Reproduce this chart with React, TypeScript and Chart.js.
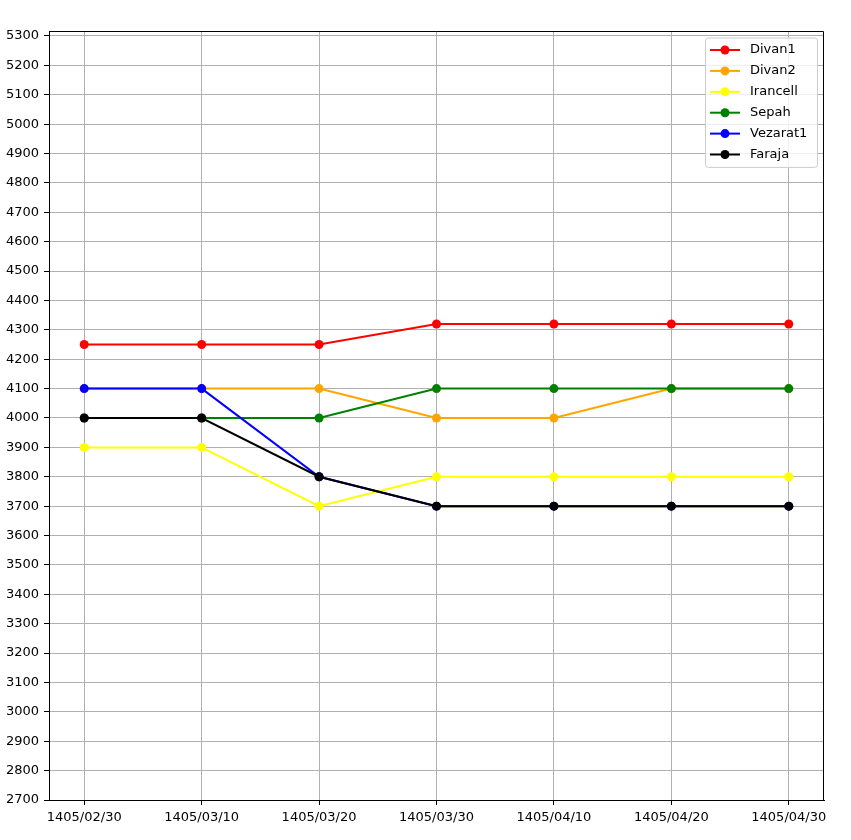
import React, { useEffect, useRef } from "react";
import { Chart, registerables } from "chart.js";

Chart.register(...registerables);

const categories = ["1405/02/30", "1405/03/10", "1405/03/20", "1405/03/30", "1405/04/10", "1405/04/20", "1405/04/30"];
const seriesNames = ["Divan1", "Divan2", "Irancell", "Sepah", "Vezarat1", "Faraja"];
const seriesColors = ["#ff0000", "#ffa500", "#ffff00", "#008000", "#0000ff", "#000000"];
const divan1 = [4250, 4250, 4250, 4320, 4320, 4320, 4320];
const divan2 = [4100, 4100, 4100, 4000, 4000, 4100, 4100];
const irancell = [3900, 3900, 3700, 3800, 3800, 3800, 3800];
const sepah = [4000, 4000, 4000, 4100, 4100, 4100, 4100];
const vezarat1 = [4100, 4100, 3800, 3700, 3700, 3700, 3700];
const faraja = [4000, 4000, 3800, 3700, 3700, 3700, 3700];
const seriesValues = [divan1, divan2, irancell, sepah, vezarat1, faraja];
const yTicks = [2700, 2800, 2900, 3000, 3100, 3200, 3300, 3400, 3500, 3600, 3700, 3800, 3900, 4000, 4100, 4200, 4300, 4400, 4500, 4600, 4700, 4800, 4900, 5000, 5100, 5200, 5300];

const FONT = "DejaVu Sans";

const framePlugin = {
  id: "frame",
  afterDatasetsDraw(chart: any) {
    const { ctx, chartArea } = chart;
    ctx.save();
    ctx.strokeStyle = "#000";
    ctx.lineWidth = 1;
    ctx.beginPath();
    ctx.moveTo(chartArea.left, chartArea.top + 0.5);
    ctx.lineTo(chartArea.right - 0.5, chartArea.top + 0.5);
    ctx.lineTo(chartArea.right - 0.5, chartArea.bottom);
    ctx.stroke();
    ctx.restore();
  },
};

const legendPlugin = {
  id: "mplLegend",
  afterDraw(chart: any) {
    const { ctx, chartArea } = chart;
    const ds = chart.data.datasets;
    const right = chartArea.right - 6.5;
    const w = 112;
    const left = right - w;
    const top = chartArea.top + 7;
    const rowH = 20.9;
    const h = ds.length * rowH + 4;
    ctx.save();
    ctx.beginPath();
    const r = 3;
    ctx.moveTo(left + r, top);
    ctx.lineTo(left + w - r, top);
    ctx.quadraticCurveTo(left + w, top, left + w, top + r);
    ctx.lineTo(left + w, top + h - r);
    ctx.quadraticCurveTo(left + w, top + h, left + w - r, top + h);
    ctx.lineTo(left + r, top + h);
    ctx.quadraticCurveTo(left, top + h, left, top + h - r);
    ctx.lineTo(left, top + r);
    ctx.quadraticCurveTo(left, top, left + r, top);
    ctx.closePath();
    ctx.fillStyle = "rgba(255,255,255,0.8)";
    ctx.fill();
    ctx.strokeStyle = "#cccccc";
    ctx.lineWidth = 1;
    ctx.stroke();
    ds.forEach((d: any, i: number) => {
      const y = top + 12 + i * rowH;
      ctx.strokeStyle = d.borderColor;
      ctx.lineWidth = 2;
      ctx.beginPath();
      ctx.moveTo(left + 4.5, y);
      ctx.lineTo(left + 34.5, y);
      ctx.stroke();
      ctx.fillStyle = d.borderColor;
      ctx.beginPath();
      ctx.arc(left + 19.5, y, 4.5, 0, Math.PI * 2);
      ctx.fill();
      ctx.fillStyle = "#000";
      ctx.font = `13px "${FONT}"`;
      ctx.textBaseline = "middle";
      ctx.textAlign = "left";
      ctx.fillText(d.label, left + 44.5, y);
    });
    ctx.restore();
  },
};

export default function App() {
  const ref = useRef<HTMLCanvasElement | null>(null);
  useEffect(() => {
    if (!ref.current) return;
    const datasets = seriesNames.map((name, i) => ({
      label: name,
      data: seriesValues[i].map((v, j) => ({ x: j, y: v })),
      borderColor: seriesColors[i],
      backgroundColor: seriesColors[i],
      borderWidth: 2,
      pointRadius: 4.5,
      pointBorderWidth: 0,
      pointHoverRadius: 4.5,
      tension: 0,
      fill: false,
      order: seriesNames.length - i,
    }));
    const chart = new Chart(ref.current, {
      type: "line",
      data: { datasets },
      plugins: [framePlugin, legendPlugin],
      options: {
        animation: false,
        responsive: false,
        devicePixelRatio: 1,
        layout: { padding: { top: 31, right: 27, left: 0, bottom: 0 } },
        plugins: { legend: { display: false }, tooltip: { enabled: false } },
        scales: {
          x: {
            type: "linear",
            min: -0.3,
            max: 6.3,
            afterBuildTicks: (s: any) => {
              s.ticks = categories.map((_, i) => ({ value: i }));
            },
            afterFit: (s: any) => {
              s.height = 40;
            },
            ticks: {
              autoSkip: false,
              maxRotation: 0,
              padding: 5,
              color: "#000",
              font: { family: FONT, size: 13 },
              callback: (v: any) => categories[Math.round(Number(v))] ?? "",
            },
            grid: { color: "#b0b0b0", lineWidth: 1, tickLength: 5, tickColor: "#000" },
            border: { display: true, color: "#000", width: 1 },
          },
          y: {
            type: "linear",
            min: 2700,
            max: 5317,
            afterBuildTicks: (s: any) => {
              s.ticks = yTicks.map((v) => ({ value: v }));
            },
            afterFit: (s: any) => {
              s.width = 49;
            },
            ticks: {
              padding: 5,
              color: "#000",
              font: { family: FONT, size: 13 },
              callback: (v: any) => String(v),
            },
            grid: { color: "#b0b0b0", lineWidth: 1, tickLength: 5, tickColor: "#000" },
            border: { display: true, color: "#000", width: 1 },
          },
        },
      },
    });
    return () => chart.destroy();
  }, []);
  return (
    <div style={{ position: "absolute", left: 0, top: 0, width: 851, height: 840, background: "#fff" }}>
      <canvas ref={ref} width={851} height={840} />
    </div>
  );
}
